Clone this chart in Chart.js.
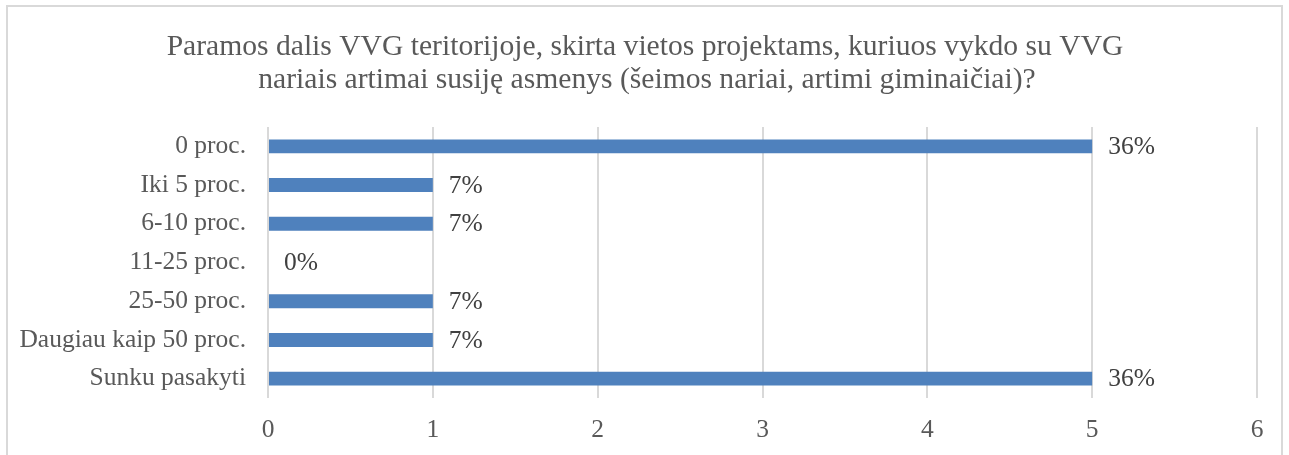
<!DOCTYPE html>
<html>
<head>
<meta charset="utf-8">
<script src="https://cdn.jsdelivr.net/npm/chart.js@4"></script>
<style>
  html, body { margin: 0; padding: 0; background: #fff; }
  #wrap { position: relative; width: 1289px; height: 455px; overflow: hidden; }
  #frame { position: absolute; left: 6px; top: 5px; width: 1277px; height: 470px; border: 2px solid #d9d9d9; box-sizing: border-box; }
  canvas { position: absolute; left: 0; top: 0; }
</style>
</head>
<body>
<div id="wrap">
  <div id="frame"></div>
  <canvas id="grafikas" width="1289" height="455"></canvas>
</div>
<script>
// Duomenys
var kategorijos = ['0 proc.', 'Iki 5 proc.', '6-10 proc.', '11-25 proc.', '25-50 proc.', 'Daugiau kaip 50 proc.', 'Sunku pasakyti'];
var reiksmes = [5, 1, 1, 0, 1, 1, 5];
var procentai = ['36%', '7%', '7%', '0%', '7%', '7%', '36%'];
var asiesZymes = [0, 1, 2, 3, 4, 5, 6];
var pavadinimas = ['Paramos dalis VVG teritorijoje, skirta vietos projektams, kuriuos vykdo su VVG',
                   'nariais artimai susiję asmenys (šeimos nariai, artimi giminaičiai)?'];

var sriftas = 'Liberation Serif';
var tekstoSpalva = '#595959';

// Pavadinimas (centruotas pagal visa paveiksla, ne pagal grafika)
var antraste = {
    id: 'antraste',
    afterDraw: function(chart) {
        var ctx = chart.ctx;
        ctx.save();
        ctx.font = '29.6px "' + sriftas + '"';
        ctx.fillStyle = tekstoSpalva;
        ctx.textAlign = 'center';
        ctx.textBaseline = 'alphabetic';
        ctx.fillText(pavadinimas[0], 645, 55);
        ctx.fillText(pavadinimas[1], 647, 88);
        ctx.restore();
    }
};

// Procentu etiketes prie stulpeliu
var etiketes = {
    id: 'etiketes',
    afterDatasetsDraw: function(chart) {
        var ctx = chart.ctx;
        var meta = chart.getDatasetMeta(0);
        ctx.save();
        ctx.font = '25.5px "' + sriftas + '"';
        ctx.fillStyle = '#404040';
        ctx.textAlign = 'left';
        ctx.textBaseline = 'middle';
        meta.data.forEach(function(bar, i) {
            ctx.fillText(procentai[i], bar.x + 16, bar.y + 1);
        });
        ctx.restore();
    }
};

var config = {
    type: 'bar',
    data: {
        labels: kategorijos,
        datasets: [
            {
                data: reiksmes,
                backgroundColor: '#4f81bd',
                borderWidth: 0,
                categoryPercentage: 1,
                barPercentage: 0.36
            }
        ]
    },
    options: {
        indexAxis: 'y',
        responsive: false,
        animation: false,
        layout: {
            padding: { top: 127, right: 32, bottom: 14, left: 0 }
        },
        scales: {
            x: {
                min: 0,
                max: 6,
                afterBuildTicks: function(scale) {
                    scale.ticks = asiesZymes.map(function(v) { return { value: v }; });
                },
                afterFit: function(scale) { scale.height = 43; },
                grid: { color: '#d9d9d9', lineWidth: 2, drawTicks: false },
                border: { display: false },
                ticks: { padding: 17, color: tekstoSpalva, font: { family: sriftas, size: 25.5 } }
            },
            y: {
                grid: { display: false },
                border: { display: false },
                afterFit: function(scale) { scale.width = 268; },
                ticks: { padding: 14, color: tekstoSpalva, font: { family: sriftas, size: 25.5 } }
            }
        },
        plugins: {
            legend: { display: false },
            tooltip: { enabled: false },
            title: { display: false }
        }
    },
    plugins: [antraste, etiketes]
};

var grafikas = new Chart(document.getElementById('grafikas'), config);
</script>
</body>
</html>
